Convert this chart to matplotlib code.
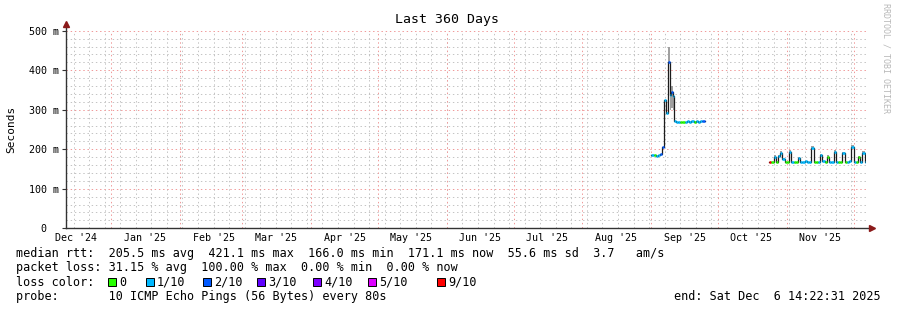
import matplotlib
matplotlib.use("Agg")
import matplotlib.pyplot as plt
import matplotlib.dates as mdates
import matplotlib.patches as patches
import pandas as pd

W, H = 897, 310
MONO = "DejaVu Sans Mono"

START = pd.Timestamp("2024-12-11 14:22:31")
END = pd.Timestamp("2025-12-06 14:22:31")

LOSS_COLORS = ["#26ff00", "#00b8ff", "#0059ff", "#5e00ff", "#7e00ff", "#dd00ff", "#ff0000"]
LOSS_LABELS = ["0", "1/10", "2/10", "3/10", "4/10", "5/10", "9/10"]
LOSS_BOX_X = [108, 146, 203, 257, 313, 368, 437]

MONTH_STARTS = ["2024-12-01", "2025-01-01", "2025-02-01", "2025-03-01", "2025-04-01",
                "2025-05-01", "2025-06-01", "2025-07-01", "2025-08-01", "2025-09-01",
                "2025-10-01", "2025-11-01", "2025-12-01"]
MONTH_LABELS = ["Dec '24", "Jan '25", "Feb '25", "Mar '25", "Apr '25", "May '25",
                "Jun '25", "Jul '25", "Aug '25", "Sep '25", "Oct '25", "Nov '25"]
Y_TICKS = [0, 100, 200, 300, 400, 500]
Y_LABELS = ["0  ", "100 m", "200 m", "300 m", "400 m", "500 m"]

# first block of measurements (ms)
seg1_times = ["2025-09-01 00:00", "2025-09-02 00:00", "2025-09-03 00:00", "2025-09-04 00:00",
              "2025-09-05 00:00", "2025-09-05 18:00", "2025-09-06 12:00", "2025-09-07 12:00",
              "2025-09-08 12:00", "2025-09-09 06:00", "2025-09-10 00:00", "2025-09-10 18:00",
              "2025-09-11 06:00", "2025-09-12 00:00", "2025-09-13 00:00", "2025-09-14 00:00",
              "2025-09-15 00:00", "2025-09-16 00:00", "2025-09-17 00:00", "2025-09-18 00:00",
              "2025-09-19 00:00", "2025-09-20 00:00", "2025-09-21 00:00", "2025-09-22 00:00",
              "2025-09-23 00:00", "2025-09-24 00:00"]
seg1_end = "2025-09-25 06:00"
seg1_median = [186, 185, 184, 186, 189, 206, 325, 292, 421, 338, 345, 336,
               272, 270, 269, 270, 269, 270, 271, 270, 271, 270, 271, 270, 271, 271]
seg1_loss = [1, 0, 1, 1, 2, 2, 1, 1, 2, 1, 2, 1,
             1, 1, 1, 0, 0, 1, 1, 1, 1, 0, 1, 1, 1, 2]
seg1_smoke_lo = [186, 185, 184, 186, 189, 206, 325, 292, 421, 300, 305, 300,
                 272, 270, 269, 270, 269, 270, 271, 270, 271, 270, 271, 270, 271, 271]
seg1_smoke_hi = [186, 185, 184, 186, 189, 206, 325, 292, 458, 362, 360, 345,
                 272, 270, 269, 270, 269, 270, 271, 270, 271, 270, 271, 270, 271, 271]

# second block, one value per day from Oct 24 to Dec 6
seg2_first, seg2_last = "2025-10-24", "2025-12-06"
seg2_end = "2025-12-06 14:00"
seg2_median = [167, 168, 180, 167, 182, 191, 176, 167,
               168, 192, 169, 167, 167, 177, 169, 168, 170, 168, 169, 202, 168, 167, 169,
               185, 170, 168, 181, 169, 168, 194, 169, 167, 168, 190, 168, 169, 170, 205,
               169, 167, 180, 169, 191, 169]
seg2_loss = [6, 0, 1, 0, 1, 1, 1, 0,
             0, 1, 1, 0, 0, 1, 1, 1, 1, 1, 1, 1, 0, 0, 1,
             1, 1, 0, 0, 1, 1, 1, 1, 0, 0, 1, 0, 1, 1, 1,
             1, 0, 0, 1, 1, 1]
seg2_smoke_hi = [167, 168, 185, 167, 186, 196, 179, 167,
                 168, 197, 169, 167, 167, 181, 169, 168, 170, 168, 169, 207, 168, 167, 169,
                 189, 170, 168, 185, 169, 168, 198, 169, 167, 168, 194, 168, 169, 170, 210,
                 169, 167, 184, 169, 195, 169]

AXIS = "#333333"
ARROW = "#8b1a1a"
MINOR_GRID = "#c4c4c4"
MAJOR_GRID = "#f09a9a"
SMOKE = "#a0a0a0"
DOTS = (0, (1.4, 2.8))


def px(x, y):
    return x / W, 1 - y / H


def draw_segment(ax, times, end, median, loss, lo, hi):
    t = [mdates.date2num(pd.Timestamp(s)) for s in times] + [mdates.date2num(pd.Timestamp(end))]
    for i in range(len(median)):
        if hi[i] > lo[i]:
            ax.fill_between([t[i], t[i + 1]], lo[i], hi[i], color=SMOKE, lw=0, zorder=2)
    ax.plot(t, list(median) + [median[-1]], drawstyle="steps-post", color="#1c1c1c", lw=0.9, zorder=3)
    ax.hlines(median, t[:-1], t[1:], colors=[LOSS_COLORS[k] for k in loss], lw=1.8, zorder=4)


fig = plt.figure(figsize=(W / 100, H / 100), dpi=100)
fig.patch.set_facecolor("white")
ax = fig.add_axes([66 / W, (H - 228.3) / H, 800 / W, 197.6 / H])
ax.set_xlim(mdates.date2num(START), mdates.date2num(END))
ax.set_ylim(0, 500)

# grid
for v in range(20, 501, 20):
    if v % 100:
        ax.axhline(v, color=MINOR_GRID, lw=0.72, ls=DOTS, zorder=0.5)
for d in pd.date_range("2024-12-15", END, freq="7D"):
    ax.axvline(mdates.date2num(d), color=MINOR_GRID, lw=0.72, ls=DOTS, zorder=0.5)
for v in Y_TICKS[1:]:
    ax.axhline(v, color=MAJOR_GRID, lw=0.72, ls=DOTS, zorder=0.6)
for m in MONTH_STARTS:
    d = pd.Timestamp(m)
    if START < d < END:
        ax.axvline(mdates.date2num(d), color=MAJOR_GRID, lw=0.72, ls=DOTS, zorder=0.6)

draw_segment(ax, seg1_times, seg1_end, seg1_median, seg1_loss, seg1_smoke_lo, seg1_smoke_hi)
seg2_times = [str(d) for d in pd.date_range(seg2_first, seg2_last, freq="D")]
draw_segment(ax, seg2_times, seg2_end, seg2_median, seg2_loss, seg2_median, seg2_smoke_hi)

# axes and arrows
for s in ax.spines.values():
    s.set_visible(False)
ax.plot([0, 1.006], [0, 0], transform=ax.transAxes, color=AXIS, lw=1, clip_on=False, zorder=5)
ax.plot([0, 0], [0, 1.034], transform=ax.transAxes, color=AXIS, lw=1, clip_on=False, zorder=5)
ax.plot([1.007], [0], transform=ax.transAxes, marker=">", ms=4, color=ARROW, clip_on=False, zorder=6)
ax.plot([0], [1.036], transform=ax.transAxes, marker="^", ms=4, color=ARROW, clip_on=False, zorder=6)

ax.set_yticks(Y_TICKS)
ax.set_yticklabels(Y_LABELS, fontfamily=MONO, fontsize=7.2)
ax.tick_params(axis="y", length=3, width=0.8, color=AXIS, pad=2)

label_pos = [mdates.date2num(pd.Timestamp(m) + pd.Timedelta(days=15)) for m in MONTH_STARTS[:-1]]
ax.set_xticks(label_pos)
ax.set_xticklabels(MONTH_LABELS, fontfamily=MONO, fontsize=7.2)
ax.tick_params(axis="x", length=0, pad=3.5)

ax.set_ylabel("Seconds", fontfamily=MONO, fontsize=8)
ax.yaxis.set_label_coords(-50 / 800, 0.5)

fig.text(*px(447, 19), "Last 360 Days", fontfamily=MONO, fontsize=9.5, ha="center", va="center")
fig.text(*px(886, 58), "RRDTOOL / TOBI OETIKER", fontfamily=MONO, fontsize=6, color="#b8b8b8",
         rotation=270, ha="center", va="center")

# legend block
fs = 8.5
fig.text(*px(16, 254), "median rtt:  205.5 ms avg  421.1 ms max  166.0 ms min  171.1 ms now  55.6 ms sd  3.7   am/s",
         fontfamily=MONO, fontsize=fs, va="center")
fig.text(*px(16, 268), "packet loss: 31.15 % avg  100.00 % max  0.00 % min  0.00 % now",
         fontfamily=MONO, fontsize=fs, va="center")
fig.text(*px(16, 282), "loss color:", fontfamily=MONO, fontsize=fs, va="center")
for x, c, lab in zip(LOSS_BOX_X, LOSS_COLORS, LOSS_LABELS):
    bx, by = px(x, 286)
    fig.patches.append(patches.Rectangle((bx, by), 8 / W, 8 / H, transform=fig.transFigure,
                                         facecolor=c, edgecolor="black", lw=0.7))
    fig.text(*px(x + 11, 282), lab, fontfamily=MONO, fontsize=fs, va="center")
fig.text(*px(16, 296.5), "probe:       10 ICMP Echo Pings (56 Bytes) every 80s",
         fontfamily=MONO, fontsize=fs, va="center")
fig.text(*px(881, 296.5), "end: Sat Dec  6 14:22:31 2025", fontfamily=MONO, fontsize=fs,
         va="center", ha="right")

fig.savefig("out.png", dpi=100)
